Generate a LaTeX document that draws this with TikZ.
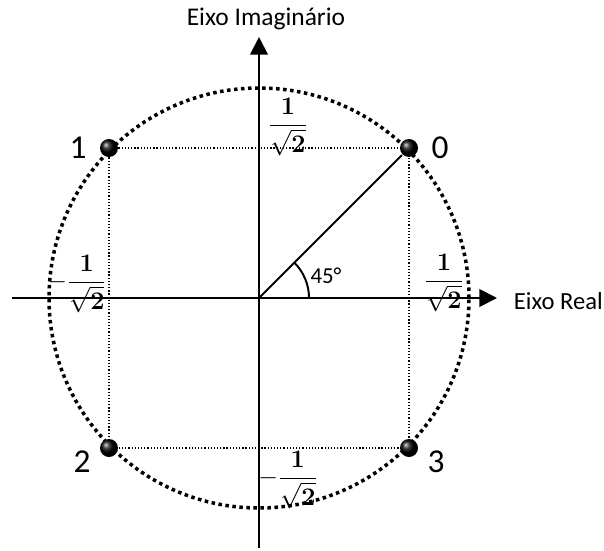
\documentclass[tikz,border=0pt]{standalone}
\usepackage[no-math]{fontspec}
\setmainfont{Carlito}
\usepackage{amsmath}
\usetikzlibrary{arrows.meta}
\begin{document}
\begin{tikzpicture}[line width=1.1pt,
  ponto/.style={circle, inner sep=0pt, minimum size=0.36cm, ball color=black},
  proj/.style={line width=0.7pt, dash pattern=on 0.7pt off 1.1pt},
  rotulo/.style={font=\fontsize{19}{19}\selectfont, inner sep=1pt},
  fracao/.style={font=\fontsize{14}{16}\selectfont, inner sep=1pt}]
  \useasboundingbox (-5.18,-5.04) rectangle (6.9,5.96);
  % eixos
  \coordinate (O) at (0,0);
  \coordinate (xesq) at (-4.94,0);
  \coordinate (xdir) at (4.76,0);
  \coordinate (ybai) at (0,-5.0);
  \coordinate (ycim) at (0,5.22);
  \draw[-{Triangle[length=10pt, width=10pt]}] (xesq) -- (xdir);
  \draw[-{Triangle[length=10pt, width=10pt]}] (ybai) -- (ycim);
  \node[font=\fontsize{14}{16}\selectfont, anchor=west, inner sep=0pt] (real) at (5.08,-0.06) {Eixo Real};
  \node[font=\fontsize{14.5}{16}\selectfont] (imag) at (0.14,5.58) {Eixo Imaginário};
  % circulo
  \draw[line width=2pt, dash pattern=on 2pt off 2pt] (O) circle (4.2);
  % projecoes
  \draw[proj] (-3,3) -- (3,3) -- (3,-3) -- (-3,-3) -- cycle;
  % pontos
  \node[ponto] (p0) at (3,3) {};
  \node[ponto] (p1) at (-3,3) {};
  \node[ponto] (p2) at (-3,-3) {};
  \node[ponto] (p3) at (3,-3) {};
  \node[rotulo] (r0) at (3.62,3.0) {0};
  \node[rotulo] (r1) at (-3.62,3.0) {1};
  \node[rotulo] (r2) at (-3.54,-3.28) {2};
  \node[rotulo] (r3) at (3.54,-3.28) {3};
  % angulo
  \draw (O) -- (p0);
  \draw (1,0) arc[start angle=0, end angle=45, radius=1];
  \node[font=\fontsize{13}{14}\selectfont] (ang) at (1.34,0.44) {45°};
  % valores
  \node[fracao] (fy) at (0.58,3.42) {$\dfrac{\mathbf{1}}{\sqrt{\mathbf{2}}}$};
  \node[fracao] (fx) at (3.7,0.3) {$\dfrac{\mathbf{1}}{\sqrt{\mathbf{2}}}$};
  \node[fracao] (fmx) at (-3.64,0.28) {$-\dfrac{\mathbf{1}}{\sqrt{\mathbf{2}}}$};
  \node[fracao] (fmy) at (0.58,-3.64) {$-\dfrac{\mathbf{1}}{\sqrt{\mathbf{2}}}$};
\end{tikzpicture}
\end{document}
